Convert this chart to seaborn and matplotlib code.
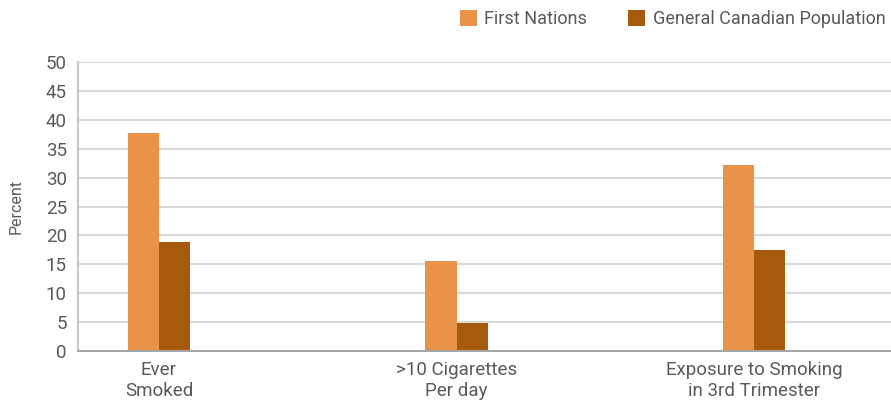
import matplotlib
matplotlib.use("Agg")
import matplotlib.pyplot as plt
import seaborn as sns
import pandas as pd

categories = ["Ever\nSmoked", ">10 Cigarettes\nPer day", "Exposure to Smoking\nin 3rd Trimester"]
series_names = ["First Nations", "General Canadian Population"]
first_nations = [37.7, 15.6, 32.2]
general_pop = [18.9, 4.9, 17.5]
colors = ["#E8924A", "#A65A0E"]

rows = []
for c, v in zip(categories, first_nations):
    rows.append({"cat": c, "series": series_names[0], "val": v})
for c, v in zip(categories, general_pop):
    rows.append({"cat": c, "series": series_names[1], "val": v})
df = pd.DataFrame(rows)

sns.set_theme(style="white")
plt.rcParams['font.family'] = ['Roboto', 'DejaVu Sans']
text_color = "#5a5a5a"

fig = plt.figure(figsize=(8.91, 4.12), dpi=100)
ax = fig.add_axes([78/891, 61/412, 1 - 78/891, 289/412])

sns.barplot(data=df, x="cat", y="val", hue="series", palette=colors,
            width=0.21, saturation=1, ax=ax, legend=True, errorbar=None,
            linewidth=0, edgecolor="none")

ax.set_ylim(0, 50)
ax.set_yticks(range(0, 51, 5))
ax.set_xlim(-0.272, 2.46)
ax.yaxis.grid(True, color="#d9d9d9", linewidth=1.5)
ax.set_axisbelow(True)
for s in ["top", "right"]:
    ax.spines[s].set_visible(False)
ax.spines["left"].set_color("#c8c8c8")
ax.spines["left"].set_linewidth(1.5)
ax.spines["bottom"].set_color("#a6a6a6")
ax.spines["bottom"].set_linewidth(1.5)
ax.tick_params(axis="both", length=0, colors=text_color, labelsize=13.5)
ax.tick_params(axis="y", pad=8)
ax.tick_params(axis="x", pad=7)
ax.set_xlabel("")
ax.set_ylabel("Percent", color=text_color, fontsize=11.5, labelpad=16)

handles, labels = ax.get_legend_handles_labels()
ax.get_legend().remove()
fig.legend(handles, labels, loc="upper right", bbox_to_anchor=(1.012, 1.015), ncol=2,
           frameon=False, fontsize=13, handlelength=0.95, handleheight=0.95,
           columnspacing=2.3, handletextpad=0.4, labelcolor=text_color)

fig.savefig("out.png", dpi=100)
